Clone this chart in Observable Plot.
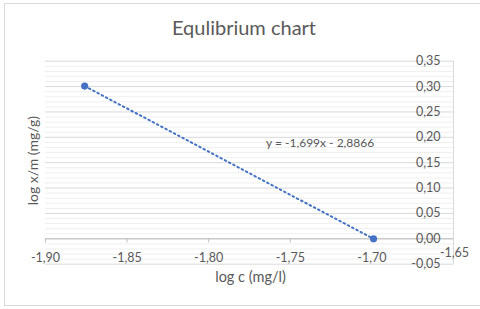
<!DOCTYPE html>
<html>
<head>
<meta charset="utf-8">
<script src="https://cdn.jsdelivr.net/npm/d3@7"></script>
<script src="https://cdn.jsdelivr.net/npm/@observablehq/plot@0.6"></script>
<style>
  html, body { margin: 0; padding: 0; background: #fff; width: 480px; height: 309px; overflow: hidden; }
  #frame { position: absolute; left: 4px; top: 3px; width: 490px; height: 303px; box-sizing: border-box; border: 1px solid #d9d9d9; }
  #title { position: absolute; left: 0; top: 15px; width: 488px; text-align: center; font-family: Lato, "Open Sans", sans-serif; font-size: 20px; color: #595959; line-height: 24px; }
  #chart { position: absolute; left: 0; top: 40px; }
</style>
</head>
<body>
<div id="frame"></div>
<div id="title">Equlibrium chart</div>
<div id="chart"></div>
<script>
// Data
const logC = [-1.876, -1.699];
const logXM = [0.301, 0.0];
const slope = -1.699;
const intercept = -2.8866;
const xTicks = [-1.90, -1.85, -1.80, -1.75, -1.70, -1.65];
const yTicks = [-0.05, 0.00, 0.05, 0.10, 0.15, 0.20, 0.25, 0.30, 0.35];
const yMinorTicks = d3.range(-50, 351, 10).map(v => v / 1000).filter(v => !yTicks.some(t => Math.abs(t - v) < 1e-9));
const titleText = "Equlibrium chart";
const xLabel = "log c (mg/l)";
const yLabel = "log x/m (mg/g)";

const points = logC.map((x, i) => ({x, y: logXM[i]}));
const loc = d3.formatLocale({decimal: ",", thousands: ".", grouping: [3], currency: ["", ""], minus: "-"});
const f2 = loc.format(".2f");
const eqText = `y = ${loc.format(".3f")(slope)}x - ${loc.format(".4f")(-intercept)}`;

const font = "Lato, 'Open Sans', sans-serif";
const gray = "#595959";
const blue = "#4472C4";

const mid = {x: (logC[0] + logC[1]) / 2, y: (logXM[0] + logXM[1]) / 2};
const xMain = xTicks.filter(t => t !== -1.65);
const xLast = xTicks.filter(t => t === -1.65);

const chart = Plot.plot({
  width: 480,
  height: 269,
  marginTop: 20.7,
  marginBottom: 45.3,
  marginLeft: 45,
  marginRight: 27,
  style: {fontFamily: font, background: "transparent", overflow: "visible"},
  x: {domain: [-1.90, -1.65], axis: null},
  y: {domain: [-0.05, 0.35], axis: null},
  marks: [
    Plot.ruleY(yMinorTicks, {stroke: "#efefef", strokeWidth: 1}),
    Plot.ruleY(yTicks, {stroke: "#d9d9d9", strokeWidth: 1}),
    Plot.ruleY([0], {stroke: "#bfbfbf", strokeWidth: 1}),
    Plot.ruleX([-1.65], {y1: -0.05, y2: 0.35, stroke: "#d9d9d9", strokeWidth: 1}),
    Plot.ruleX(xMain, {x: d => d, y1: 0, y2: -0.0079, stroke: "#bfbfbf", strokeWidth: 1}),
    Plot.text(xMain, {x: d => d, y: 0, dy: 18.7, text: d => f2(d), fill: gray, fontSize: 12.5, fontFamily: font}),
    Plot.text(xLast, {x: d => d, y: 0, dy: 14.5, dx: 1, text: d => f2(d), fill: gray, fontSize: 12.5, fontFamily: font}),
    Plot.text(yTicks, {x: -1.65, y: d => d, dx: -13, textAnchor: "end", text: d => f2(d), fill: gray, fontSize: 12.5, fontFamily: font}),
    Plot.linearRegressionY(points, {x: "x", y: "y", ci: 0, stroke: blue, strokeWidth: 2, strokeDasharray: "1.6,3.2"}),
    Plot.dot(points, {x: "x", y: "y", r: 3.6, fill: blue, stroke: null}),
    Plot.text([mid], {x: "x", y: "y", dx: 91, dy: -19, text: () => eqText, fill: gray, fontSize: 12, fontFamily: font}),
    Plot.text([xLabel], {frameAnchor: "bottom", dy: 13.5, dx: 1, textAnchor: "middle", lineAnchor: "middle", text: d => d, fill: gray, fontSize: 14.5, fontFamily: font}),
    Plot.text([yLabel], {frameAnchor: "left", dx: -12, dy: -2, rotate: -90, textAnchor: "middle", lineAnchor: "middle", text: d => d, fill: gray, fontSize: 14, fontFamily: font})
  ]
});
document.getElementById("chart").appendChild(chart);
</script>
</body>
</html>
